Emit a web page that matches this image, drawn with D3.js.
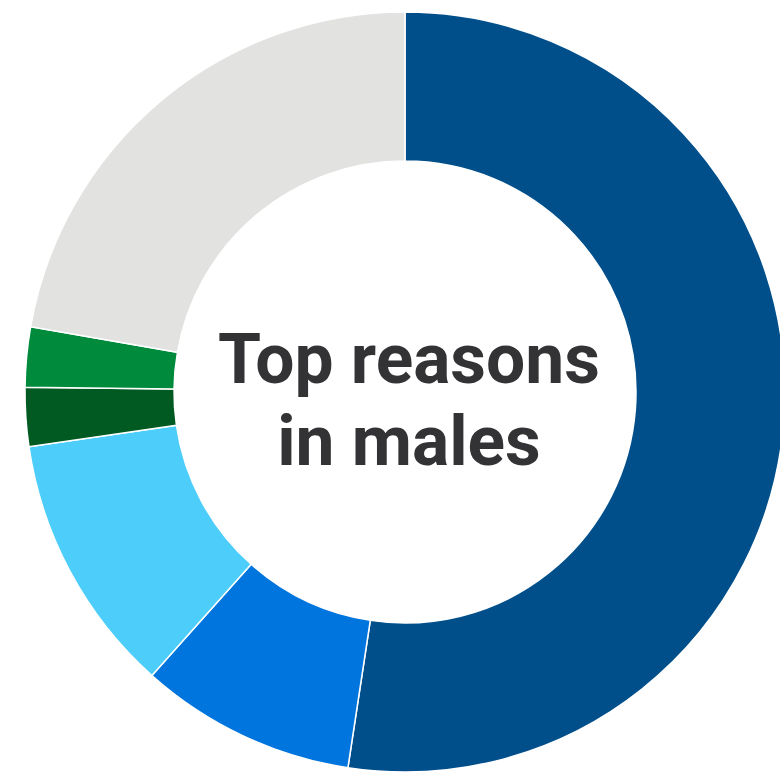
<!DOCTYPE html>
<html>
<head>
<meta charset="utf-8">
<script src="https://cdn.jsdelivr.net/npm/d3@7"></script>
<style>
  html, body { margin: 0; padding: 0; background: #fff; overflow: hidden; }
</style>
</head>
<body>
<div id="chart"></div>
<script>
// slices, clockwise from 12 o'clock (percent)
var categories = ["Reason 1", "Reason 2", "Reason 3", "Reason 4", "Reason 5", "Other"];
var values = [52.4, 9.2, 11.1, 2.5, 2.55, 22.25];
var colors = ["#004f8b", "#0075dd", "#4ccdfa", "#005a22", "#008a3b", "#e2e2e0"];
var titleLines = ["Top reasons", "in males"];

var width = 780, height = 774;
var cx = 405, cy = 392;
var outerR = 380, innerR = 231;

var svg = d3.select("#chart")
  .append("svg")
  .attr("width", width)
  .attr("height", height);

var g = svg.append("g").attr("transform", `translate(${cx},${cy})`);

var data = categories.map((c, i) => ({ category: c, value: values[i] }));

var pie = d3.pie()
  .sort(null)
  .value(function (d) { return d.value; });

var arc = d3.arc()
  .innerRadius(innerR)
  .outerRadius(outerR);

var color = d3.scaleOrdinal().domain(categories).range(colors);

g.selectAll("path")
  .data(pie(data))
  .enter()
  .append("path")
  .attr("d", arc)
  .attr("fill", function (d) { return color(d.data.category); })
  .attr("stroke", "#fff")
  .attr("stroke-width", 1.5);

// center title
g.selectAll(".title")
  .data(titleLines)
  .enter()
  .append("text")
  .attr("class", "title")
  .attr("x", 4)
  .attr("y", function (d, i) { return -9 + i * 82; })
  .attr("text-anchor", "middle")
  .attr("font-family", "Roboto, 'Open Sans', sans-serif")
  .attr("font-weight", 700)
  .attr("font-size", 69.5)
  .attr("fill", "#333335")
  .text(function (d) { return d; });
</script>
</body>
</html>
